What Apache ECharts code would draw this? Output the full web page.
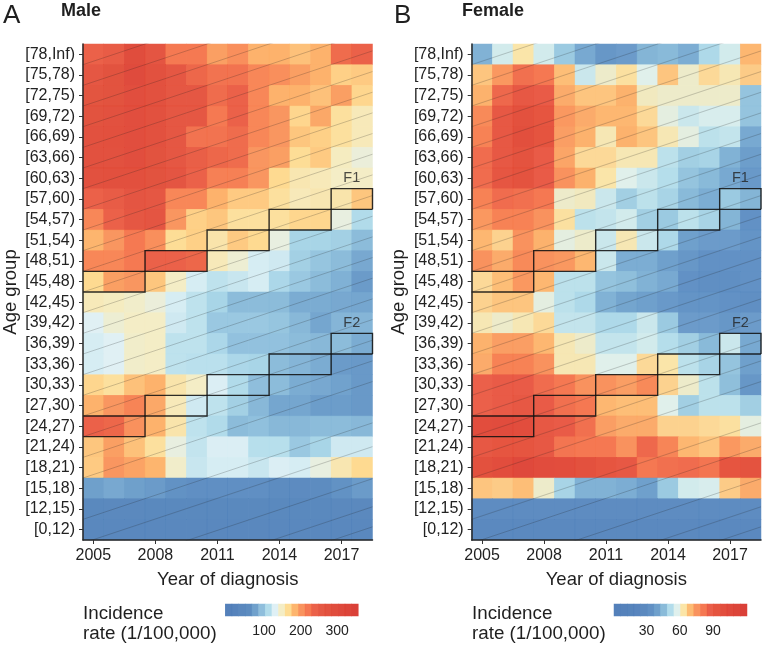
<!DOCTYPE html>
<html><head><meta charset="utf-8">
<style>html,body{margin:0;padding:0;background:#fff}#c{width:762px;height:646px}</style>
<script src="https://cdn.jsdelivr.net/npm/echarts@6/dist/echarts.min.js"></script>
</head><body><div id="c"></div>
<script>
const years = [2005,2006,2007,2008,2009,2010,2011,2012,2013,2014,2015,2016,2017,2018];
const ageGroups = ['[78,Inf)','[75,78)','[72,75)','[69,72)','[66,69)','[63,66)','[60,63)','[57,60)','[54,57)','[51,54)','[48,51)','[45,48)','[42,45)','[39,42)','[36,39)','[33,36)','[30,33)','[27,30)','[24,27)','[21,24)','[18,21)','[15,18)','[12,15)','[0,12)'];
const maleRates = [
[245,255,300,270,225,225,200,210,190,190,182,190,235,245],
[265,280,310,285,265,240,230,230,215,210,200,190,175,178],
[275,280,295,285,265,265,235,245,215,190,190,182,200,172],
[280,285,295,285,265,265,225,245,215,205,172,195,165,155],
[285,290,295,285,265,230,230,235,215,205,180,175,165,155],
[285,285,295,280,265,250,240,235,205,200,168,178,152,142],
[285,290,290,280,270,245,220,220,205,170,158,155,150,150],
[245,255,270,265,215,215,190,178,178,165,155,158,160,180],
[215,245,265,270,205,175,180,165,165,165,172,172,140,112],
[188,205,225,210,168,175,160,178,170,140,108,108,105,92],
[215,215,225,245,245,240,155,145,128,125,105,98,92,80],
[170,200,205,180,150,128,118,122,128,110,100,92,85,70],
[155,152,148,142,128,118,108,92,92,92,82,82,80,78],
[132,145,150,150,125,118,100,100,100,98,90,78,88,88],
[128,132,148,150,118,118,110,96,96,96,92,90,92,82],
[128,132,148,150,118,116,116,110,108,92,88,82,70,68],
[172,165,182,190,160,150,130,112,94,92,82,80,76,68],
[190,205,218,195,155,125,118,105,90,78,78,72,72,68],
[245,240,208,190,160,118,112,92,95,90,90,92,92,90],
[180,200,182,165,140,120,130,130,115,115,100,108,125,125],
[178,205,198,188,148,122,128,128,122,130,128,140,158,170],
[74,80,74,70,62,60,60,60,60,56,54,56,62,70],
[40,42,42,40,40,40,40,40,40,40,40,40,42,42],
[38,38,38,38,38,38,38,38,38,38,38,38,38,38]];
const femaleRates = [
[42,55,63,55,47,40,34,36,43,44,41,50,55,70],
[68,75,84,82,69,54,60,64,57,68,60,65,62,67],
[71,86,92,90,72,68,68,71,61,60,60,60,60,46],
[78,92,98,94,75,72,70,70,65,58,54,56,56,46],
[80,92,100,95,74,71,62,71,68,62,58,52,53,40],
[85,92,96,90,73,65,65,62,62,52,48,49,42,37],
[85,93,96,90,76,71,63,57,54,51,46,44,40,35],
[80,85,84,82,60,61,54,48,52,49,44,41,47,43],
[75,80,80,76,64,52,53,55,48,47,52,49,43,32],
[70,66,76,71,58,60,54,62,54,50,38,36,36,33],
[76,72,78,76,75,70,54,41,41,38,34,32,32,32],
[65,69,75,70,52,52,46,45,42,40,32,30,30,32],
[66,68,68,58,52,50,42,39,38,35,33,33,32,30],
[62,60,62,65,53,53,50,50,54,47,36,36,34,36],
[71,74,74,70,62,60,53,53,55,51,48,44,54,40],
[72,80,80,76,62,62,57,57,65,63,52,49,46,38],
[88,90,90,85,82,76,76,74,78,66,60,52,45,34],
[88,90,92,90,84,82,70,69,69,57,48,52,52,48],
[102,104,102,92,90,84,74,72,72,66,66,65,64,58],
[92,94,94,92,83,82,82,76,86,79,70,68,75,72],
[98,102,108,104,102,98,94,92,82,84,85,83,94,96],
[68,67,69,60,49,42,42,41,38,47,55,56,67,72],
[28,28,28,28,28,28,28,28,28,28,28,28,28,28],
[25,25,25,25,25,25,25,25,25,25,25,25,25,25]];
const maleRamp = ['#4575b4','#4878b6','#4c7eb9','#4f82bb','#6499c8','#85b9d9','#abd9e9','#dceff4','#f3ecc0','#fed98a','#fdaf62','#f98a50','#f46d43','#e95439','#e34a33','#e0432f','#dd3e2d','#db392b','#d93529','#d73027'];
const femaleRamp = ['#4575b4','#4677b5','#4879b6','#4a7bb8','#4d7fba','#5487bf','#6398c8','#80b5d6','#abd9e9','#dcefeb','#fbe3a0','#fdb567','#f98a50','#f46d43','#e8503a','#e3452f','#df3f2d','#dc3a2b','#d93529','#d73027'];
const maleRange = [0,357], femaleRange = [0,120];
const maleLegendTicks = [100,200,300], femaleLegendTicks = [30,60,90];
const yearEdges = [2004.5,2018.5];
const rowEdges = [0,24];
const cohortStarts = [-4.03,-3.06,-1.7,-0.15,1,3,4,5,6,7,8,9,10,11,12,13,14,15,16,17,18,19,20,21,22,23];
const f1Upper = [[2004.5,13],[2007.5,13],[2007.5,14],[2010.5,14],[2010.5,15],[2013.5,15],[2013.5,16],[2016.5,16],[2016.5,17],[2018.5,17],[2018.5,16]];
const f1Lower = [[2004.5,12],[2007.5,12],[2007.5,13],[2010.5,13],[2010.5,14],[2013.5,14],[2013.5,15],[2016.5,15],[2016.5,16],[2018.5,16]];
const f2Upper = [[2004.5,6],[2007.5,6],[2007.5,7],[2010.5,7],[2010.5,8],[2013.5,8],[2013.5,9],[2016.5,9],[2016.5,10],[2018.5,10],[2018.5,9]];
const f2Lower = [[2004.5,5],[2007.5,5],[2007.5,6],[2010.5,6],[2010.5,7],[2013.5,7],[2013.5,8],[2016.5,8],[2016.5,9],[2018.5,9]];
const boxLabels = [['F1',2017.5,17.5],['F2',2017.5,10.5]];

const FONT = '"Liberation Sans",Arial,sans-serif', INK = '#1f1f1f';
const panels = [
 {rates:maleRates, ramp:maleRamp, range:maleRange, ticks:maleLegendTicks, left:83, width:289.5, legLeft:225.3, axisRange:[-6,358]},
 {rates:femaleRates, ramp:femaleRamp, range:femaleRange, ticks:femaleLegendTicks, left:471.7, width:289.3, legLeft:614, axisRange:[0.6,120.8]}
];
const grid=[],xAxis=[],yAxis=[],series=[],visualMap=[];
panels.forEach((p)=>{
  const g=grid.length;
  grid.push({left:p.left,top:44,width:p.width,height:496,outerBoundsMode:'none'});
  grid.push({left:p.left,top:44,width:p.width,height:496,outerBoundsMode:'none'});
  grid.push({left:p.legLeft,top:604,width:133,height:12,outerBoundsMode:'none'});
  xAxis.push({type:'category',gridIndex:g,data:years,z:5,boundaryGap:true,
    name:'Year of diagnosis',nameLocation:'middle',nameGap:30,nameTextStyle:{fontFamily:FONT,fontSize:18.5,color:INK},
    axisLine:{show:true,onZero:false,lineStyle:{color:'#262626',width:1.5}},
    axisTick:{show:true,alignWithLabel:true,interval:2,length:4,lineStyle:{color:'#333',width:1}},
    axisLabel:{interval:2,fontFamily:FONT,fontSize:16,color:'#222',margin:8},splitLine:{show:false}});
  yAxis.push({type:'category',gridIndex:g,data:ageGroups,inverse:true,z:5,
    name:'Age group',nameLocation:'middle',nameGap:63,nameRotate:90,nameTextStyle:{fontFamily:FONT,fontSize:18.5,color:INK},
    axisLine:{show:true,onZero:false,lineStyle:{color:'#262626',width:1.5}},
    axisTick:{show:true,alignWithLabel:true,interval:0,length:4,lineStyle:{color:'#333',width:1}},
    axisLabel:{interval:0,fontFamily:FONT,fontSize:16,color:'#222',margin:8},splitLine:{show:false}});
  xAxis.push({type:'value',gridIndex:g+1,min:yearEdges[0],max:yearEdges[1],show:false});
  yAxis.push({type:'value',gridIndex:g+1,min:rowEdges[0],max:rowEdges[1],show:false});
  const n=p.ramp.length;
  const legVals=p.ramp.map((_,i)=>p.range[0]+(p.range[1]-p.range[0])*i/(n-1));
  xAxis.push({type:'category',gridIndex:g+2,data:legVals.map(String),show:false});
  yAxis.push({type:'category',gridIndex:g+2,data:['r'],show:false});
  xAxis.push({type:'value',gridIndex:g+2,position:'bottom',min:p.axisRange[0],max:p.axisRange[1],
    axisLine:{show:false},axisTick:{show:false},splitLine:{show:false},
    axisLabel:{customValues:p.ticks,fontFamily:FONT,fontSize:14,color:'#222',margin:8}});
  const xH=xAxis.length-4,yH=yAxis.length-3;
  const hmIdx=series.length;
  const cells=[];
  p.rates.forEach((row,r)=>row.forEach((v,c)=>cells.push([c,r,v])));
  series.push({type:'heatmap',xAxisIndex:xH,yAxisIndex:yH,data:cells,itemStyle:{opacity:.92},silent:true,z:2});
  cohortStarts.forEach(n0=>{
    series.push({type:'line',xAxisIndex:xH+1,yAxisIndex:yH+1,symbol:'none',silent:true,z:3,
      lineStyle:{color:'rgba(30,30,30,.22)',width:1},
      data:yearEdges.map(x=>[x,n0+(x-yearEdges[0])/3])});
  });
  [f1Upper,f1Lower,f2Upper,f2Lower].forEach(path=>{
    series.push({type:'line',xAxisIndex:xH+1,yAxisIndex:yH+1,symbol:'none',silent:true,z:4,clip:false,
      lineStyle:{color:'#111',width:1.4,opacity:.88,join:'miter'},data:path});
  });
  series.push({type:'scatter',xAxisIndex:xH+1,yAxisIndex:yH+1,symbolSize:0,silent:true,z:6,
    data:boxLabels.map(b=>({value:[b[1],b[2]],name:b[0]})),
    label:{show:true,position:'inside',formatter:'{b}',fontFamily:FONT,fontSize:14.5,color:'#222'}});
  const legIdx=series.length;
  series.push({type:'heatmap',xAxisIndex:xH+2,yAxisIndex:yH+2,data:legVals.map((v,i)=>[i,0,v]),itemStyle:{opacity:.92},silent:true});
  visualMap.push({type:'continuous',show:false,min:p.range[0],max:p.range[1],seriesIndex:[hmIdx,legIdx],dimension:2,inRange:{color:p.ramp}});
});
const t=(text,x,y,size,extra)=>({type:'text',left:x,top:y,style:Object.assign({text,fontFamily:FONT,fontSize:size,fill:INK},extra||{})});
const graphic=[
 t('A',3,3,26),t('B',394,3,26),
 t('Male',61,2,18,{fontWeight:'bold'}),t('Female',462,2,18,{fontWeight:'bold'}),
 t('Incidence',83,604,18.8),t('rate (1/100,000)',83,624,18.8),
 t('Incidence',472,604,18.8),t('rate (1/100,000)',472,624,18.8)
];
const chart=echarts.init(document.getElementById('c'),null,{renderer:'canvas'});
chart.setOption({animation:false,backgroundColor:'#fff',tooltip:{show:false},grid,xAxis,yAxis,series,visualMap,graphic});
</script></body></html>
